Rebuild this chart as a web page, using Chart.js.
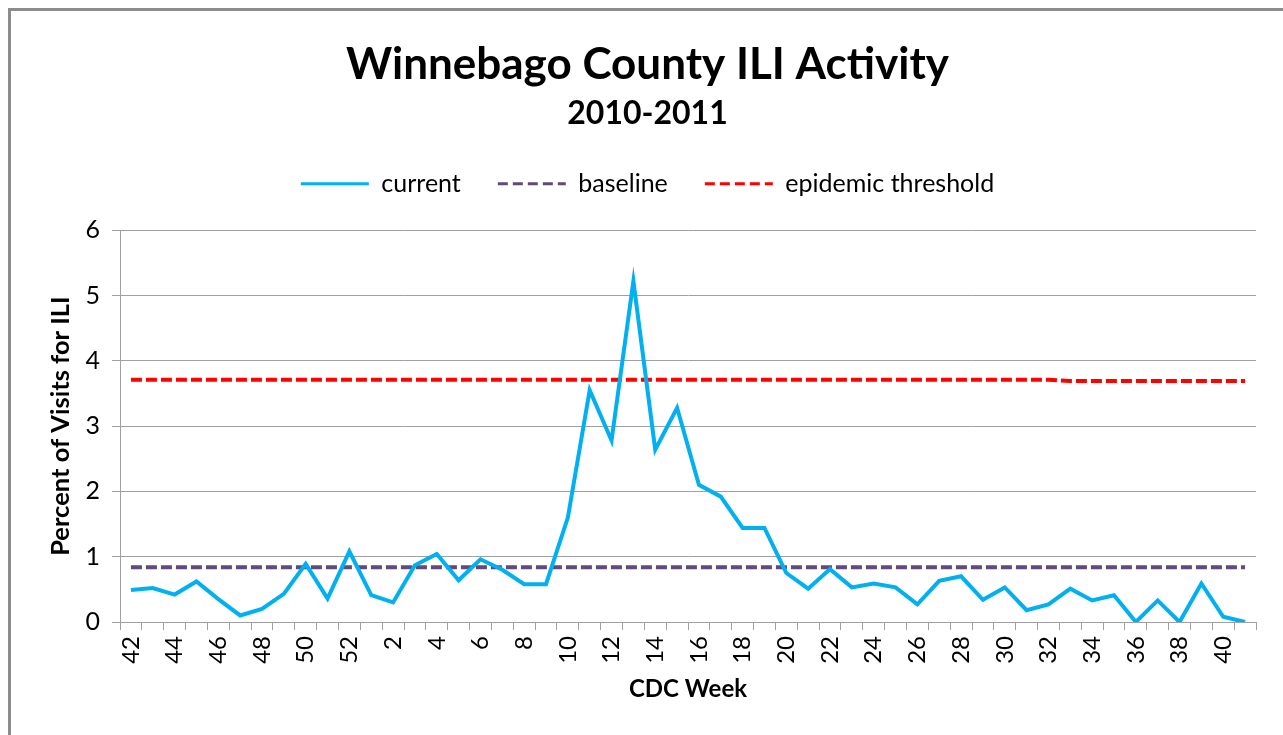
<!DOCTYPE html>
<html>
<head>
<meta charset="utf-8">
<script src="https://cdn.jsdelivr.net/npm/chart.js@4/dist/chart.umd.min.js"></script>
<style>
  html, body { margin: 0; padding: 0; background: #fff; overflow: hidden; }
  #wrap { position: relative; width: 1283px; height: 735px; }
  #frame { position: absolute; left: 8px; top: 8px; width: 1400px; height: 900px;
           border-left: 3px solid #8c8c8c; border-top: 3px solid #8c8c8c; }
  #c { position: absolute; left: 0; top: 0; }
</style>
</head>
<body>
<div id="wrap">
  <div id="frame"></div>
  <canvas id="c" width="1283" height="735"></canvas>
</div>
<script>
// CDC weeks, 2010 week 42 through 2011 week 41
const weeks = [42,43,44,45,46,47,48,49,50,51,52,
  1,2,3,4,5,6,7,8,9,10,11,12,13,14,15,16,17,18,19,20,
  21,22,23,24,25,26,27,28,29,30,31,32,33,34,35,36,37,38,39,40,41];

const current = [0.49,0.52,0.42,0.62,0.35,0.10,0.20,0.43,0.89,0.36,1.08,
  0.41,0.30,0.87,1.04,0.64,0.96,0.80,0.58,0.58,1.60,3.55,2.78,5.22,2.64,3.28,
  2.10,1.92,1.44,1.44,0.75,0.51,0.81,0.53,0.59,0.53,0.27,0.63,0.70,0.34,0.53,
  0.18,0.27,0.51,0.33,0.41,0.00,0.33,0.00,0.59,0.08,0.00];

const baseline = [0.84,0.84,0.84,0.84,0.84,0.84,0.84,0.84,0.84,0.84,0.84,
  0.84,0.84,0.84,0.84,0.84,0.84,0.84,0.84,0.84,0.84,0.84,0.84,0.84,0.84,0.84,
  0.84,0.84,0.84,0.84,0.84,0.84,0.84,0.84,0.84,0.84,0.84,0.84,0.84,0.84,0.84,
  0.84,0.84,0.84,0.84,0.84,0.84,0.84,0.84,0.84,0.84,0.84];

const threshold = [3.71,3.71,3.71,3.71,3.71,3.71,3.71,3.71,3.71,3.71,3.71,
  3.71,3.71,3.71,3.71,3.71,3.71,3.71,3.71,3.71,3.71,3.71,3.71,3.71,3.71,3.71,
  3.71,3.71,3.71,3.71,3.71,3.71,3.71,3.71,3.71,3.71,3.71,3.71,3.71,3.71,3.71,
  3.71,3.71,3.69,3.69,3.69,3.69,3.69,3.69,3.69,3.69,3.69];

const seriesNames = ['current', 'baseline', 'epidemic threshold'];
const yTicks = [0,1,2,3,4,5,6];

const FONT = 'Lato, "Open Sans", sans-serif';
const GRID = '#a0a0a0';

// adds empty space under the legend so the plot starts where the reference's does
const legendMargin = {
  id: 'legendMargin',
  beforeInit(chart) {
    const fit = chart.legend.fit;
    chart.legend.fit = function() {
      fit.bind(chart.legend)();
      this.height += 24;
    };
  }
};

new Chart(document.getElementById('c'), {
  type: 'line',
  data: {
    labels: weeks.map(String),
    datasets: [
      { label: seriesNames[0], data: current, borderColor: '#00B0F0', backgroundColor: '#00B0F0',
        borderWidth: 4, pointRadius: 0, tension: 0, yAxisID: 'y' },
      { label: seriesNames[1], data: baseline, borderColor: '#604A7B', backgroundColor: '#604A7B',
        borderWidth: 4, borderDash: [11,4], pointRadius: 0, tension: 0, yAxisID: 'y' },
      { label: seriesNames[2], data: threshold, borderColor: '#FF0000', backgroundColor: '#FF0000',
        borderWidth: 4, borderDash: [11,4], pointRadius: 0, tension: 0, yAxisID: 'y' }
    ]
  },
  plugins: [legendMargin],
  options: {
    responsive: false,
    animation: false,
    layout: { padding: { left: 12, right: 0, top: 0, bottom: 0 } },
    plugins: {
      tooltip: { enabled: false },
      title: {
        display: true, text: 'Winnebago County ILI Activity', color: '#000',
        font: { family: FONT, size: 44, weight: 'bold', lineHeight: 1.2 },
        padding: { top: 38, bottom: 4 }
      },
      subtitle: {
        display: true, text: '2010-2011', color: '#000',
        font: { family: FONT, size: 32, weight: 'bold', lineHeight: 1.2 },
        padding: { top: 0, bottom: 1 }
      },
      legend: {
        display: true, position: 'top',
        labels: {
          usePointStyle: true, pointStyle: 'line', pointStyleWidth: 68,
          color: '#000', padding: 37,
          font: { family: FONT, size: 25 },
          generateLabels: function(chart) {
            const items = Chart.defaults.plugins.legend.labels.generateLabels(chart);
            items.forEach(function(it) {
              const ds = chart.data.datasets[it.datasetIndex];
              it.lineDash = ds.borderDash ? [10, 5] : [];
              it.lineWidth = 3;
              it.strokeStyle = ds.borderColor;
              it.pointStyle = 'line';
            });
            return items;
          }
        }
      }
    },
    scales: {
      x: {
        offset: true,
        grid: { display: true, offset: true, drawOnChartArea: false, drawTicks: true, tickLength: 8, color: GRID },
        border: { display: true, color: GRID },
        ticks: {
          autoSkip: false, minRotation: 90, maxRotation: 90, padding: 6, color: '#000',
          font: { family: FONT, size: 24 },
          callback: function(v, i) { return i % 2 === 0 ? weeks[i] : ''; }
        },
        title: { display: true, text: 'CDC Week', color: '#000',
          font: { family: FONT, size: 24, weight: 'bold', lineHeight: 1.2 },
          padding: { top: 0, bottom: 31 } },
        afterFit: function(s) { s.height = 113; }
      },
      y: {
        position: 'left', min: 0, max: 6,
        grid: { color: GRID, drawTicks: true, tickLength: 8 },
        border: { display: true, color: GRID },
        afterBuildTicks: function(s) { s.ticks = yTicks.map(v => ({ value: v })); },
        ticks: { padding: 12, color: '#000', font: { family: FONT, size: 25 } },
        title: { display: true, text: 'Percent of Visits for ILI', color: '#000',
          font: { family: FONT, size: 25.5, weight: 'bold', lineHeight: 1.2 },
          padding: { top: 33, bottom: 0 } },
        afterFit: function(s) { s.width = 108; }
      },
      yRight: {
        position: 'right', display: true, min: 0, max: 6,
        grid: { drawOnChartArea: false, drawTicks: false, display: false },
        border: { display: false },
        ticks: { display: false },
        afterFit: function(s) { s.width = 27; }
      }
    }
  }
});
</script>
</body>
</html>
